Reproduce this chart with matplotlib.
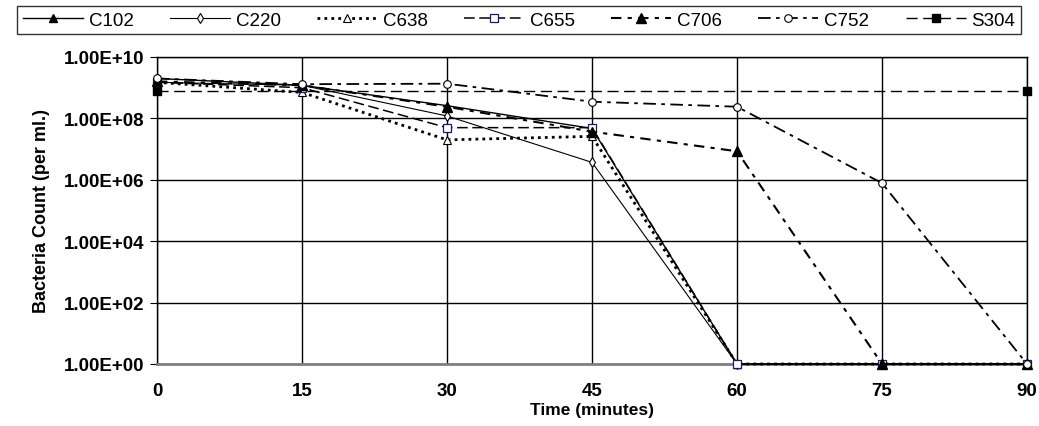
import numpy as np
import matplotlib
matplotlib.use("Agg")
import matplotlib.pyplot as plt
from matplotlib.ticker import FixedLocator, FixedFormatter

# Data (bacteria count per ml)
time_min = [0, 15, 30, 45, 60, 75, 90]
c102 = [2.0e9, 1.2e9, 2.6e8, 4.7e7, 1, 1, 1]
c220 = [1.5e9, 1.2e9, 1.2e8, 3.7e6, 1, 1, 1]
c638 = [1.5e9, 7.0e8, 2.0e7, 2.6e7, 1, 1, 1]
c655 = [1.5e9, 1.0e9, 5.0e7, 5.0e7, 1, 1, 1]
c706 = [1.6e9, 1.2e9, 2.4e8, 3.7e7, 8.5e6, 1, 1]
c752 = [2.0e9, 1.3e9, 1.35e9, 3.5e8, 2.4e8, 7.8e5, 1]
s304_time = [0, 90]
s304 = [8.0e8, 8.0e8]

y_ticks = [1e0, 1e2, 1e4, 1e6, 1e8, 1e10]
y_labels = ["1.00E+00", "1.00E+02", "1.00E+04", "1.00E+06", "1.00E+08", "1.00E+10"]

plt.rcParams['font.family'] = ['Liberation Sans', 'DejaVu Sans']

fig = plt.figure(figsize=(10.39, 4.27), dpi=100)
ax = fig.add_axes([157/1039, 1 - 365/427, (1027 - 157)/1039, (365 - 58)/427])

series = [
    ("C102", time_min, c102, dict(ls='-', lw=1.0, marker='^', mfc='black', mec='black', ms=6)),
    ("C220", time_min, c220, dict(ls='-', lw=0.8, marker='d', mfc='white', mec='black', ms=5.5, mew=0.8)),
    ("C638", time_min, c638, dict(ls=(0, (1, 1.5)), lw=2.0, marker='^', mfc='white', mec='black', ms=6, mew=0.8)),
    ("C655", time_min, c655, dict(ls=(0, (7, 3)), lw=1.1, marker='s', mfc='white', mec='#1a1a6e', ms=5.5, mew=0.9)),
    ("C706", time_min, c706, dict(ls=(0, (5, 3, 2, 3)), lw=1.5, marker='^', mfc='black', mec='black', ms=6.5)),
    ("C752", time_min, c752, dict(ls=(0, (7, 3, 2, 3)), lw=1.3, marker='o', mfc='white', mec='black', ms=5.5, mew=0.8)),
    ("S304", s304_time, s304, dict(ls=(0, (8, 4)), lw=1.0, marker='s', mfc='black', mec='black', ms=6)),
]

for name, xs, vals, st in series:
    ax.plot(xs, vals, color='black', label=name, clip_on=False, zorder=3, **st)

ax.set_yscale('log')
ax.set_ylim(1, 1e10)
ax.set_xlim(0, 90)
ax.yaxis.set_major_locator(FixedLocator(y_ticks))
ax.yaxis.set_major_formatter(FixedFormatter(y_labels))
ax.yaxis.set_minor_locator(FixedLocator([]))
ax.set_xticks(time_min)
ax.set_xticklabels([str(t) for t in time_min])

ax.grid(True, which='major', color='black', lw=1.0)
ax.set_axisbelow(True)
for s in ax.spines.values():
    s.set_color('black')
    s.set_linewidth(1.0)
ax.spines['bottom'].set_color('#808080')
ax.spines['bottom'].set_linewidth(2.0)

ax.tick_params(axis='x', length=0, pad=13, labelsize=13.5)
ax.tick_params(axis='y', length=5, direction='out', pad=4, labelsize=13.5)
for lab in ax.get_xticklabels() + ax.get_yticklabels():
    lab.set_fontweight('bold')

ax.set_xlabel("Time (minutes)", fontsize=12.5, fontweight='bold', labelpad=2)
ax.set_ylabel("Bacteria Count (per ml.)", fontsize=13, fontweight='bold', labelpad=10)

leg = fig.legend(loc='center', ncol=7, mode='expand',
                 bbox_to_anchor=(8/1039, 1 - 34/427, 1022/1039, 26/427),
                 frameon=True, fancybox=False, edgecolor='black',
                 handlelength=3.2, handletextpad=0.3, columnspacing=1.0,
                 borderpad=0.3, prop={'size': 13.5})
leg.get_frame().set_linewidth(1.0)

fig.savefig("out.png", dpi=100)
